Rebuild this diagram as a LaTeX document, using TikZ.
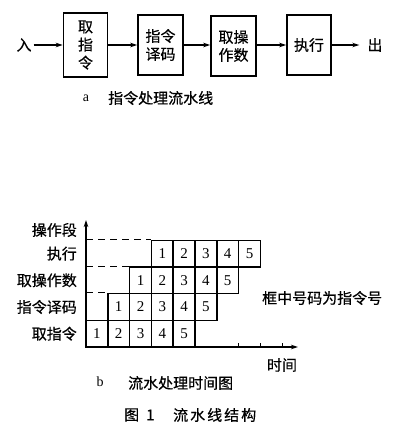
\documentclass[tikz,border=0pt]{standalone}
\usepackage{fontspec}
\newfontfamily\cjk[FakeBold=0.6]{Noto Sans CJK SC}
\setmainfont{Liberation Serif}
\usetikzlibrary{arrows.meta}
\begin{document}
\begin{tikzpicture}[x=1pt,y=-1pt,
  stage/.style={draw,line width=1.5pt,inner sep=0pt,align=center,font=\cjk\fontsize{15}{18}\selectfont},
  flow/.style={line width=1.1pt,-{Stealth[length=7pt,width=4.5pt]}},
  lab/.style={font=\cjk\fontsize{15}{16}\selectfont,inner sep=0pt},
  cell/.style={draw,line width=1.5pt,minimum width=21.8pt,minimum height=26.7pt,inner sep=0pt,font=\fontsize{15}{16}\selectfont},
  axis/.style={line width=1.3pt,-{Stealth[length=7pt,width=4.5pt]}},
  guide/.style={line width=0.9pt,dash pattern=on 7pt off 5pt}]
\useasboundingbox (0,0) rectangle (400,429);
% part a
\node[lab] (in) at (24,45) {入};
\node[stage,minimum width=44pt,minimum height=64pt] (s1) at (85.5,45) {取\\指\\令};
\node[stage,minimum width=45pt,minimum height=60pt] (s2) at (160.5,45) {指令\\译码};
\node[stage,minimum width=45pt,minimum height=60pt] (s3) at (233.5,46) {取操\\作数};
\node[stage,minimum width=44pt,minimum height=60pt] (s4) at (309,45) {执行};
\node[lab] (out) at (375,45) {出};
\draw[flow] (in.east) ++(2pt,0) coordinate (inr) -- (s1.west |- inr);
\draw[flow] (s1.east |- in) -- (s2.west |- in);
\draw[flow] (s2.east |- in) -- (s3.west |- in);
\draw[flow] (s3.east |- in) -- (s4.west |- in);
\draw[flow] (s4.east |- in) -- ([xshift=-8pt]out.west);
\node[inner sep=0pt,font=\fontsize{14}{14}\selectfont] (capa) at (86,98) {a};
\node[lab,anchor=west] (capatext) at (108,98) {指令处理流水线};
% part b
\coordinate (O) at (86,347);
\coordinate (ytop) at (86,220);
\coordinate (xend) at (298,347);
\draw[axis] (O) -- (ytop);
\draw[axis] (O) -- (xend);
\foreach \r/\name in {0/取指令,1/指令译码,2/取操作数,3/执行}{
  \node[lab,anchor=east] (row\r) at (77,{333.7-26.7*\r}) {\name};
  \foreach \k in {1,...,5}{
    \node[cell] (c\r\k) at ({86+10.9+21.8*(\r+\k-1)},{333.7-26.7*\r}) {\k};
  }
}
\node[lab,anchor=east] (rowlab) at (77,230) {操作段};
\foreach \r in {1,2,3}{
  \draw[guide] (c\r1.north west -| O) -- (c\r1.north west);
}
\foreach \t in {7,8,9}{
  \coordinate (tk\t) at ({86+21.8*\t},347);
  \draw[line width=0.9pt] (tk\t) -- ++(0,-4);
}
\node[lab] (time) at (282,365) {时间};
\node[lab,anchor=west] (note) at (262,298) {框中号码为指令号};
\node[inner sep=0pt,font=\fontsize{14}{14}\selectfont] (capb) at (100,382) {b};
\node[lab,anchor=west] (capbtext) at (128,383) {流水处理时间图};
\node[lab,anchor=west] (fig) at (124,415) {图\hspace{7pt}1};
\node[lab,anchor=west] (figtext) at (173,415) {流\hspace{2pt}水\hspace{2pt}线\hspace{2pt}结\hspace{2pt}构};
\end{tikzpicture}
\end{document}
